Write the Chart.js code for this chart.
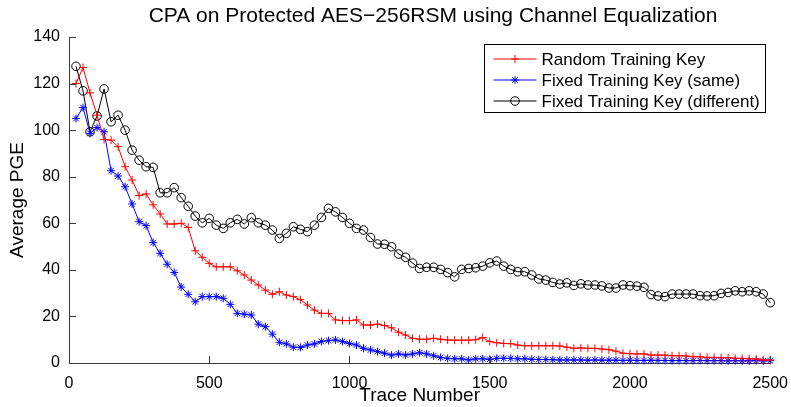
<!DOCTYPE html>
<html>
<head>
<meta charset="utf-8">
<script src="https://cdn.jsdelivr.net/npm/chart.js@4/dist/chart.umd.min.js"></script>
<style>
    body { margin: 0; background: #fff; }
    #wrap { width: 791px; height: 407px; }
</style>
</head>
<body>
<div id="wrap"><canvas id="pgeChart" width="791" height="407"></canvas></div>
<script>
// Trace numbers (x), one point every 25 traces
const traces = [];
for (let t = 25; t <= 2500; t += 25) traces.push(t);

const randomKey = [
    120, 126.9, 116, 106.4, 96, 95.7, 92.9, 84.3, 78.6, 71.9,
    72.6, 67.9, 64, 59.7, 59.7, 60, 58.2, 48.2, 45.4, 42.8,
    41.3, 41.3, 41.3, 39.6, 37.8, 35.6, 33.5, 31.3, 29.5, 30.6,
    29.2, 28.5, 27.2, 24.9, 22.7, 21.3, 21.3, 18.5, 18.2, 18.2,
    18.5, 16.3, 16.3, 16.7, 16.1, 15.1, 13.2, 12.0, 10.6, 10.2,
    10.2, 10.6, 10.2, 9.9, 9.8, 9.8, 9.8, 10.0, 10.9, 9.2,
    8.7, 8.4, 8.3, 7.7, 7.4, 7.4, 7.4, 7.4, 7.4, 7.3,
    6.8, 6.3, 6.5, 6.3, 6.3, 6.0, 5.7, 5.1, 4.2, 4.0,
    3.9, 3.9, 3.4, 3.4, 3.4, 3.1, 3.1, 3.0, 2.7, 2.7,
    2.4, 2.4, 2.3, 2.3, 2.0, 2.0, 1.8, 1.7, 1.3, 1.3
];

const fixedSame = [
    105, 109.7, 98.6, 101.1, 99.3, 82.6, 80.3, 75.7, 68.3, 60.7,
    59, 51.7, 47.1, 42.4, 38.9, 32.6, 29.5, 26.3, 28.5, 28.5,
    28.5, 27.8, 25.2, 21.3, 21, 20.6, 16.7, 15.6, 12.4, 8.9,
    8.2, 6.8, 6.7, 7.7, 8.2, 9.2, 9.6, 9.9, 9.2, 8.4,
    7.7, 6.3, 5.6, 4.9, 4.2, 3.4, 3.9, 3.4, 3.9, 4.4,
    3.9, 3.1, 2.4, 2.0, 1.8, 1.8, 1.3, 1.8, 1.8, 1.6,
    2.0, 2.0, 2.0, 1.8, 1.8, 1.6, 1.5, 1.5, 1.4, 1.3,
    1.3, 1.3, 1.3, 1.2, 1.3, 1.2, 1.2, 1.2, 1.1, 1.2,
    1.1, 1.1, 1.2, 1.1, 1.1, 1.0, 1.1, 1.0, 1.0, 1.1,
    1.0, 1.0, 1.0, 0.9, 1.0, 0.9, 0.9, 1.0, 0.9, 1.0
];

const fixedDifferent = [
    127.4, 116.9, 99.3, 106.1, 117.7, 103.6, 106.4, 100, 91.4, 87.1,
    84.3, 84, 73.1, 73.1, 75.3, 71, 67.3, 63.1, 60.2, 62.1,
    59.2, 57.8, 60.2, 61.7, 59.7, 62.4, 60.2, 59.2, 57.1, 53.5,
    55.7, 58.5, 57.4, 56.4, 59.2, 62.5, 66.4, 64.9, 62.5, 60,
    57.8, 57.1, 53.9, 51.1, 51, 49.9, 46.8, 45.4, 42.9, 40.6,
    41.1, 41.1, 40.2, 38.8, 37.0, 40.2, 40.6, 40.9, 41.6, 43.0,
    43.8, 41.6, 40.2, 39.2, 39.2, 37.8, 36.1, 35.6, 34.6, 33.9,
    34.4, 33.3, 34.0, 33.5, 33.5, 33.1, 32.2, 32.2, 33.5, 33.2,
    33.0, 32.5, 29.4, 28.8, 28.5, 29.6, 29.6, 29.6, 29.6, 28.9,
    28.8, 28.9, 29.9, 30.3, 31.0, 30.6, 31.0, 30.6, 29.6, 25.9
];

const seriesLabels = ['Random Training Key', 'Fixed Training Key (same)', 'Fixed Training Key (different)'];
const xTicks = [0, 500, 1000, 1500, 2000, 2500];
const yTicks = [0, 20, 40, 60, 80, 100, 120, 140];
const chartTitle = 'CPA on Protected AES\u2212256RSM using Channel Equalization';

const FONT = 'Arial, "Liberation Sans", sans-serif';

function toPoints(values) {
    return values.map((v, i) => ({ x: traces[i], y: v }));
}

// MATLAB style inward ticks on left and bottom axes
const inwardTicks = {
    id: 'inwardTicks',
    afterDatasetsDraw(chart) {
        const ctx = chart.ctx;
        const area = chart.chartArea;
        const xs = chart.scales.x, ys = chart.scales.y;
        ctx.save();
        ctx.strokeStyle = '#3a3a3a';
        ctx.lineWidth = 1;
        ctx.beginPath();
        xTicks.forEach(v => {
            const px = Math.round(xs.getPixelForValue(v)) + 0.5;
            ctx.moveTo(px, area.bottom);
            ctx.lineTo(px, area.bottom - 7);
        });
        yTicks.forEach(v => {
            const py = Math.round(ys.getPixelForValue(v)) + 0.5;
            ctx.moveTo(area.left, py);
            ctx.lineTo(area.left + 7, py);
        });
        ctx.stroke();
        ctx.restore();
    }
};

// Title, placed a bit right of the canvas centre like the original figure
const figTitle = {
    id: 'figTitle',
    afterDraw(chart) {
        const ctx = chart.ctx;
        ctx.save();
        ctx.font = '21px ' + FONT;
        ctx.fillStyle = '#000';
        ctx.textAlign = 'center';
        ctx.textBaseline = 'middle';
        ctx.fillText(chartTitle, 433, 16);
        ctx.restore();
    }
};

// Boxed legend in the upper right corner of the axes
const boxLegend = {
    id: 'boxLegend',
    afterDraw(chart) {
        const ctx = chart.ctx;
        const left = 484.5, top = 44.5, w = 281, h = 68;
        ctx.save();
        ctx.fillStyle = '#fff';
        ctx.fillRect(left, top, w, h);
        ctx.strokeStyle = '#000';
        ctx.lineWidth = 1;
        ctx.strokeRect(left, top, w, h);
        ctx.font = '17px ' + FONT;
        ctx.textBaseline = 'middle';
        chart.data.datasets.forEach((ds, i) => {
            const y = top + 14.5 + i * 21;
            ctx.strokeStyle = ds.borderColor;
            ctx.beginPath();
            ctx.moveTo(left + 9, y);
            ctx.lineTo(left + 52, y);
            ctx.stroke();
            ctx.fillStyle = 'rgba(0,0,0,0)';
            Chart.helpers.drawPoint(ctx, {
                pointStyle: ds.pointStyle,
                radius: ds.pointRadius,
                borderWidth: 1
            }, left + 30.5, y);
            ctx.fillStyle = '#000';
            ctx.fillText(ds.label, left + 57, y + 1);
        });
        ctx.restore();
    }
};

const lineDefaults = {
    borderWidth: 1,
    pointBorderWidth: 1,
    tension: 0,
    clip: false,
    pointBackgroundColor: 'rgba(0,0,0,0)'
};

const tickFont = { family: FONT, size: 16 };
const labelFont = { family: FONT, size: 19 };

new Chart(document.getElementById('pgeChart'), {
    type: 'line',
    data: {
        datasets: [{
            ...lineDefaults,
            label: seriesLabels[0],
            data: toPoints(randomKey),
            borderColor: '#ff0000',
            pointBorderColor: '#ff0000',
            pointStyle: 'cross',
            pointRadius: 4
        }, {
            ...lineDefaults,
            label: seriesLabels[1],
            data: toPoints(fixedSame),
            borderColor: '#0000ff',
            pointBorderColor: '#0000ff',
            pointStyle: 'star',
            pointRadius: 4
        }, {
            ...lineDefaults,
            label: seriesLabels[2],
            data: toPoints(fixedDifferent),
            borderColor: '#000000',
            pointBorderColor: '#000000',
            pointStyle: 'circle',
            pointRadius: 4.3
        }]
    },
    options: {
        responsive: false,
        animation: false,
        layout: { padding: { left: 0, right: 19, top: 37, bottom: 0 } },
        plugins: {
            legend: { display: false },
            tooltip: { enabled: false },
            title: { display: false }
        },
        scales: {
            x: {
                type: 'linear',
                min: 0,
                max: 2500,
                afterBuildTicks: s => { s.ticks = xTicks.map(v => ({ value: v })); },
                afterFit: s => { s.height = 44; },
                grid: { display: false },
                border: { display: true, color: '#3a3a3a', width: 1 },
                ticks: { color: '#000', font: tickFont, padding: 3, maxRotation: 0, callback: v => String(v) },
                title: { display: true, text: 'Trace Number', color: '#000', font: labelFont, padding: 0 }
            },
            y: {
                min: 0,
                max: 140,
                afterBuildTicks: s => { s.ticks = yTicks.map(v => ({ value: v })); },
                afterFit: s => { s.width = 69; },
                grid: { display: false },
                border: { display: true, color: '#3a3a3a', width: 1 },
                ticks: { color: '#000', font: tickFont, padding: 1, callback: v => String(v) },
                title: { display: true, text: 'Average PGE', color: '#000', font: labelFont, padding: { top: 6, bottom: 0 } }
            }
        }
    },
    plugins: [inwardTicks, figTitle, boxLegend]
});
</script>
</body>
</html>
